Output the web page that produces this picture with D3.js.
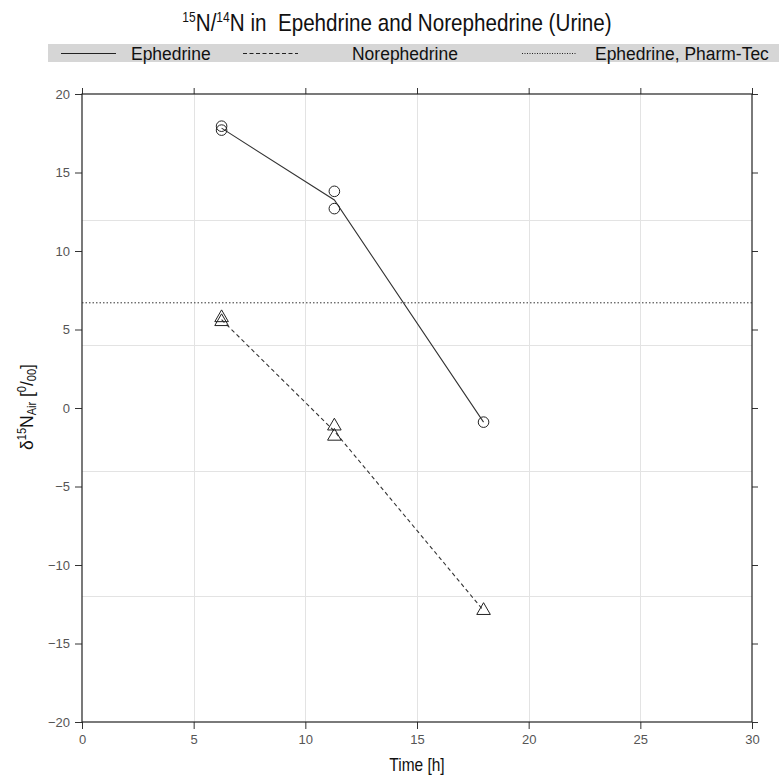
<!DOCTYPE html>
<html>
<head>
<meta charset="utf-8">
<script src="https://cdn.jsdelivr.net/npm/d3@7"></script>
<style>
  html, body { margin: 0; padding: 0; background: #fff; }
  svg { display: block; }
  text { font-family: "Liberation Sans", Arial, sans-serif; white-space: pre; }
</style>
</head>
<body>
<svg id="chart" width="779" height="778"></svg>
<script>
// Sampling times [h] and measured delta-15N values (two replicates per time)
const ephedrineTime  = [6.25, 6.25, 11.3, 11.3, 17.98];
const ephedrineValue = [17.95, 17.7, 13.8, 12.7, -0.9];
const norephTime     = [6.25, 6.25, 11.3, 11.3, 17.98];
const norephValue    = [5.75, 5.5, -1.15, -1.8, -12.9];
// Reference value of the pharmaceutical ephedrine
const pharmTecValue  = 6.7;

const xTicks = [0, 5, 10, 15, 20, 25, 30];
const yTicks = [-20, -15, -10, -5, 0, 5, 10, 15, 20];
const xGrid = [5, 10, 15, 20, 25];
const yGrid = [-12, -4, 4, 12];
const legendLabels = ["Ephedrine", "Norephedrine", "Ephedrine, Pharm-Tec"];

const svg = d3.select("#chart");
const pLeft = 82, pRight = 752, pTop = 94, pBottom = 722;
const narrow = 0.86; // horizontal squeeze for the condensed lettering

const x = d3.scaleLinear().domain([0, 30]).range([pLeft, pRight]);
const y = d3.scaleLinear().domain([-20, 20]).range([pBottom, pTop]);

// grid
const grid = svg.append("g").attr("stroke", "#e3e3e3").attr("stroke-width", 1);
grid.selectAll("line.v").data(xGrid).join("line").attr("class", "v")
  .attr("x1", d => Math.round(x(d)) + 0.5).attr("x2", d => Math.round(x(d)) + 0.5)
  .attr("y1", pTop).attr("y2", pBottom);
grid.selectAll("line.h").data(yGrid).join("line").attr("class", "h")
  .attr("y1", d => Math.round(y(d)) + 0.5).attr("y2", d => Math.round(y(d)) + 0.5)
  .attr("x1", pLeft).attr("x2", pRight);

// axes (ticks pointing outwards on all four sides)
function styleAxis(g) {
  g.select(".domain").remove();
  g.selectAll(".tick line").attr("stroke", "#333");
  g.selectAll(".tick text").attr("fill", "#555")
    .style("font-family", "'Liberation Sans', Arial, sans-serif")
    .style("font-size", "13px");
}
svg.append("g").attr("transform", `translate(${pLeft},0)`)
  .call(d3.axisLeft(y).tickValues(yTicks).tickSize(7).tickPadding(5).tickFormat(d3.format("d")))
  .call(styleAxis);
svg.append("g").attr("transform", `translate(${pRight},0)`)
  .call(d3.axisRight(y).tickValues(yTicks).tickSize(6).tickFormat(""))
  .call(styleAxis);
svg.append("g").attr("transform", `translate(0,${pBottom})`)
  .call(d3.axisBottom(x).tickValues(xTicks).tickSize(7).tickPadding(6).tickFormat(d3.format("d")))
  .call(styleAxis);
svg.append("g").attr("transform", `translate(0,${pTop})`)
  .call(d3.axisTop(x).tickValues(xTicks).tickSize(6).tickFormat(""))
  .call(styleAxis);

// panel box
svg.append("rect").attr("x", pLeft).attr("y", pTop)
  .attr("width", pRight - pLeft).attr("height", pBottom - pTop)
  .attr("fill", "none").attr("stroke", "#222").attr("stroke-width", 1.2);

// reference line
svg.append("line")
  .attr("x1", pLeft).attr("x2", pRight)
  .attr("y1", y(pharmTecValue)).attr("y2", y(pharmTecValue))
  .attr("stroke", "#333").attr("stroke-width", 1).attr("stroke-dasharray", "1.5,2");

// mean line through replicates
function meanPath(ts, vs) {
  const groups = d3.rollups(ts.map((t, i) => [t, vs[i]]), g => d3.mean(g, d => d[1]), d => d[0]);
  groups.sort((a, b) => a[0] - b[0]);
  return d3.line().x(d => x(d[0])).y(d => y(d[1]))(groups);
}
svg.append("path").attr("d", meanPath(ephedrineTime, ephedrineValue))
  .attr("fill", "none").attr("stroke", "#333").attr("stroke-width", 1.1);
svg.append("path").attr("d", meanPath(norephTime, norephValue))
  .attr("fill", "none").attr("stroke", "#333").attr("stroke-width", 1.1)
  .attr("stroke-dasharray", "4,3");

// points
svg.append("g").selectAll("circle").data(ephedrineTime.map((t, i) => [t, ephedrineValue[i]])).join("circle")
  .attr("cx", d => x(d[0])).attr("cy", d => y(d[1])).attr("r", 5.3)
  .attr("fill", "none").attr("stroke", "#222").attr("stroke-width", 1);
const tri = d3.symbol().type(d3.symbolTriangle).size(80);
svg.append("g").selectAll("path").data(norephTime.map((t, i) => [t, norephValue[i]])).join("path")
  .attr("transform", d => `translate(${x(d[0])},${y(d[1])})`)
  .attr("d", tri).attr("fill", "none").attr("stroke", "#222").attr("stroke-width", 1);

// title
const title = svg.append("g").attr("transform", `translate(397,31) scale(${narrow},1)`)
  .append("text").attr("text-anchor", "middle").style("font-size", "24px").attr("fill", "#111");
title.append("tspan").text("15").style("font-size", "14px").attr("dy", -9);
title.append("tspan").text("N/").attr("dy", 9);
title.append("tspan").text("14").style("font-size", "14px").attr("dy", -9);
title.append("tspan").text("N in  Epehdrine and Norephedrine (Urine)").attr("dy", 9);

// legend band
svg.append("rect").attr("x", 48).attr("y", 44).attr("width", 731).attr("height", 18).attr("fill", "#d6d6d6");
const legendDash = [null, "4,2.5", "1,1.5"];
const legendLineX = [61, 243, 522];
const legendTextX = [131, 352, 595];
legendLabels.forEach((lab, i) => {
  const l = svg.append("line").attr("x1", legendLineX[i]).attr("x2", legendLineX[i] + 55)
    .attr("y1", 53.5).attr("y2", 53.5).attr("stroke", "#222").attr("stroke-width", 1);
  if (legendDash[i]) l.attr("stroke-dasharray", legendDash[i]);
  svg.append("g").attr("transform", `translate(${legendTextX[i]},60) scale(${narrow + 0.06},1)`)
    .append("text").text(lab).style("font-size", "19px").attr("fill", "#111");
});

// axis titles
svg.append("g").attr("transform", `translate(${(pLeft + pRight) / 2},771) scale(${narrow},1)`)
  .append("text").attr("text-anchor", "middle")
  .style("font-size", "18px").attr("fill", "#111").text("Time [h]");

const yl = svg.append("g").attr("transform", "translate(33,407) rotate(-90) scale(0.92,1)")
  .append("text").attr("text-anchor", "middle").style("font-size", "19px").attr("fill", "#111");
yl.append("tspan").text("δ");
yl.append("tspan").text("15").style("font-size", "12px").attr("dy", -7);
yl.append("tspan").text("N").attr("dy", 7);
yl.append("tspan").text("Air").style("font-size", "12px").attr("dy", 3);
yl.append("tspan").text(" [").attr("dy", -3);
yl.append("tspan").text("0").style("font-size", "12px").attr("dy", -7);
yl.append("tspan").text("/").attr("dy", 7);
yl.append("tspan").text("00").style("font-size", "12px").attr("dy", 3);
yl.append("tspan").text("]").attr("dy", -3);
</script>
</body>
</html>
